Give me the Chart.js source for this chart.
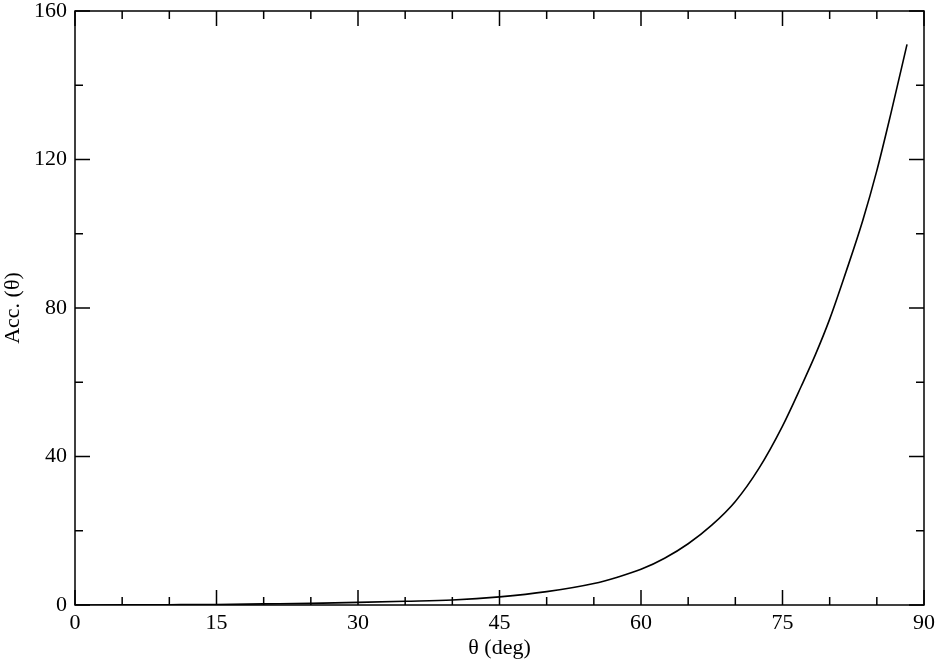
<!DOCTYPE html>
<html>
<head>
<meta charset="utf-8">
<script src="https://cdn.jsdelivr.net/npm/chart.js@4/dist/chart.umd.min.js"></script>
<style>
  html, body { margin: 0; padding: 0; background: #fff; }
  #wrap { width: 939px; height: 664px; position: relative; }
</style>
</head>
<body>
<div id="wrap"><canvas id="c"></canvas></div>
<script>
// valores
const thetaDeg = [0, 5, 10, 15, 20, 25, 30, 35, 40, 45, 50, 55, 57.5, 60, 62.5, 65, 67.5, 70, 72.5, 75, 77, 78.5, 80, 81.7, 83.5, 85, 86.5, 88.2];
const accValues = [0, 0.03, 0.08, 0.15, 0.3, 0.45, 0.7, 1.0, 1.35, 2.2, 3.6, 5.8, 7.5, 9.6, 12.6, 16.5, 21.5, 27.9, 36.8, 48.2, 59, 67.5, 77, 89.5, 103.5, 117, 132.5, 151];

const xMajorTicks = [0, 15, 30, 45, 60, 75, 90];
const xMinorTicks = [5, 10, 20, 25, 35, 40, 50, 55, 65, 70, 80, 85];
const yMajorTicks = [0, 40, 80, 120, 160];
const yMinorTicks = [20, 60, 100, 140];

const FONT = "'Liberation Serif', 'Times New Roman', serif";

// marco y marcas hacia dentro en los cuatro lados
const frameTicks = {
  id: 'frameTicks',
  afterDatasetsDraw(chart) {
    const { ctx, chartArea: a, scales: { x, y } } = chart;
    ctx.save();
    ctx.strokeStyle = '#000';
    ctx.lineWidth = 1.5;
    ctx.strokeRect(a.left, a.top, a.right - a.left, a.bottom - a.top);
    ctx.beginPath();
    const vx = (v, len) => {
      const px = x.getPixelForValue(v);
      ctx.moveTo(px, a.bottom); ctx.lineTo(px, a.bottom - len);
      ctx.moveTo(px, a.top); ctx.lineTo(px, a.top + len);
    };
    const hy = (v, len) => {
      const py = y.getPixelForValue(v);
      ctx.moveTo(a.left, py); ctx.lineTo(a.left + len, py);
      ctx.moveTo(a.right, py); ctx.lineTo(a.right - len, py);
    };
    xMajorTicks.forEach(v => vx(v, 15));
    xMinorTicks.forEach(v => vx(v, 8));
    yMajorTicks.forEach(v => hy(v, 15));
    yMinorTicks.forEach(v => hy(v, 8));
    ctx.stroke();
    ctx.restore();
  }
};

new Chart(document.getElementById('c'), {
  type: 'line',
  data: {
    datasets: [{
      data: thetaDeg.map((t, i) => ({ x: t, y: accValues[i] })),
      borderColor: '#000',
      borderWidth: 1.6,
      pointRadius: 0,
      fill: false,
      cubicInterpolationMode: 'monotone'
    }]
  },
  options: {
    responsive: true,
    maintainAspectRatio: false,
    animation: false,
    layout: { padding: { top: 11, right: 15, left: 0, bottom: 3 } },
    plugins: {
      legend: { display: false },
      tooltip: { enabled: false }
    },
    scales: {
      x: {
        type: 'linear',
        min: 0, max: 90,
        grid: { display: false, drawTicks: false },
        border: { display: false },
        afterFit: s => { s.height = 56; s.paddingLeft = 0; s.paddingRight = 0; },
        afterBuildTicks: s => { s.ticks = xMajorTicks.map(v => ({ value: v })); },
        ticks: { color: '#000', padding: 5, font: { family: FONT, size: 22 }, maxRotation: 0 },
        title: { display: true, text: 'θ (deg)', color: '#000', padding: 0, font: { family: FONT, size: 22 } }
      },
      y: {
        type: 'linear',
        min: 0, max: 160,
        grid: { display: false, drawTicks: false },
        border: { display: false },
        afterFit: s => { s.width = 75; s.paddingTop = 0; s.paddingBottom = 0; },
        afterBuildTicks: s => { s.ticks = yMajorTicks.map(v => ({ value: v })); },
        ticks: { color: '#000', padding: 8, font: { family: FONT, size: 22 } },
        title: { display: true, text: 'Acc. (θ)', color: '#000', padding: 0, font: { family: FONT, size: 22 } }
      }
    }
  },
  plugins: [frameTicks]
});
</script>
</body>
</html>
